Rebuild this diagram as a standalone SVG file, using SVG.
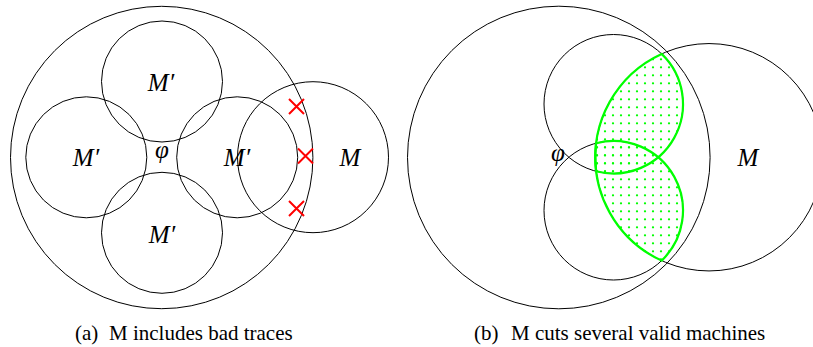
<svg xmlns="http://www.w3.org/2000/svg" width="813" height="347" viewBox="0 0 813 347">
<style>
.c{fill:none;stroke:#000;stroke-width:1}
.lab{font-family:"Liberation Serif","Times New Roman",serif;font-style:italic;font-size:25px;fill:#000;text-anchor:middle}
.cap{font-family:"Liberation Serif","Times New Roman",serif;font-size:21px;fill:#000}
.x{stroke:#ff0000;stroke-width:2;fill:none}
.lens{fill:url(#dots);stroke:#00ff00;stroke-width:2.2}
</style>
<defs>
<pattern id="dots" patternUnits="userSpaceOnUse" x="0" y="0" width="8" height="8">
<circle cx="5" cy="3.3" r="1.15" fill="#00ff00"/>
</pattern>
</defs>
<rect width="813" height="347" fill="#fff"/>
<g id="panel-a">
<g id="a-phi"><circle class="c" cx="161.7" cy="157.5" r="151.2"/><text class="lab" x="162" y="158">φ</text></g>
<g id="a-m1"><circle class="c" cx="162" cy="81.5" r="60.5"/><text class="lab" x="161" y="91">M′</text></g>
<g id="a-m2"><circle class="c" cx="86.3" cy="157.3" r="60.5"/><text class="lab" x="86" y="166">M′</text></g>
<g id="a-m3"><circle class="c" cx="237.2" cy="157.3" r="60.5"/><text class="lab" x="237" y="166">M′</text></g>
<g id="a-m4"><circle class="c" cx="162" cy="232.8" r="60.5"/><text class="lab" x="162" y="243">M′</text></g>
<g id="a-M"><circle class="c" cx="313" cy="157.2" r="75.5"/><text class="lab" x="350" y="166">M</text></g>
<g id="marks">
<path class="x" d="M289,99 L304,114 M304,99 L289,114"/>
<path class="x" d="M298,148.5 L313,163.5 M313,148.5 L298,163.5"/>
<path class="x" d="M289,201 L304,216 M304,201 L289,216"/>
</g>
</g>
<g id="panel-b">
<g id="b-phi"><circle class="c" cx="558.8" cy="157.5" r="151.3"/><text class="lab" x="558" y="161">φ</text></g>
<g id="b-top"><circle class="c" cx="613.5" cy="104" r="69.5"/></g>
<g id="b-bottom"><circle class="c" cx="613.5" cy="210.5" r="69.5"/></g>
<g id="b-M"><circle class="c" cx="709" cy="157.25" r="113.7"/><text class="lab" x="748" y="166">M</text></g>
<g id="lenses">
<path class="lens" d="M661.65,53.88 A113.7,113.7 0 0 0 596.17,171.30 A69.5,69.5 0 0 0 661.65,53.88 Z"/>
<path class="lens" d="M661.65,260.62 A113.7,113.7 0 0 1 596.17,143.20 A69.5,69.5 0 0 1 661.65,260.62 Z"/>
</g>
</g>
<g id="connectors"/>
<g id="captions">
<text class="cap" y="340"><tspan x="75">(a)</tspan><tspan x="109">M includes bad traces</tspan></text>
<text class="cap" y="340"><tspan x="474">(b)</tspan><tspan x="511">M cuts several valid machines</tspan></text>
</g>
</svg>
